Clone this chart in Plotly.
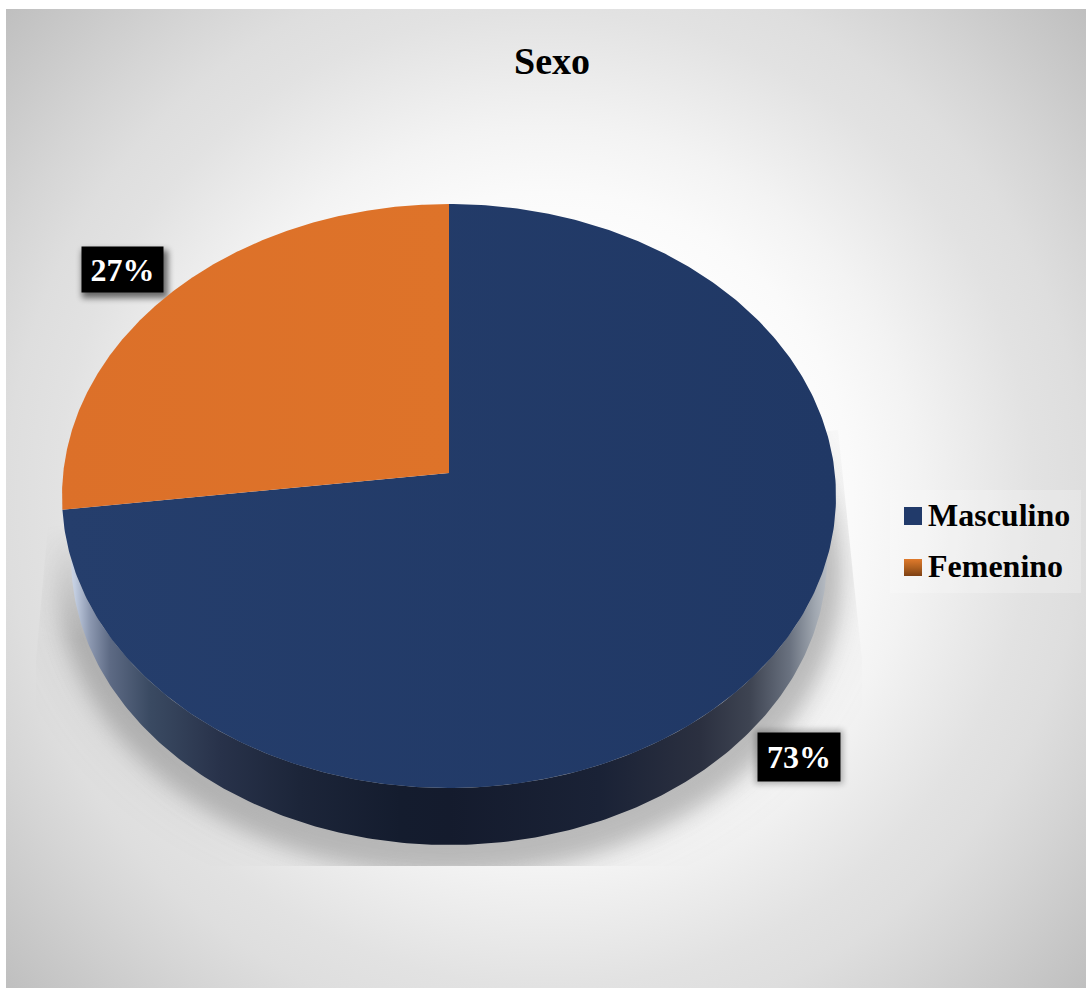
import base64
import numpy as np
import plotly.graph_objects as go

# Chart data
title_text = "Sexo"
categories = ["Masculino", "Femenino"]
shares = [73, 27]
slice_colors = [["#253e6c", "#203865"], ["#dc7029", "#de7329"]]

# Canvas size and the projected disc
W, H = 1086, 988
CX, CY, RX, RY = 449.0, 496.0, 387.0, 292.0
TILT = -0.079                     # perspective shift of the disc centre
BASE_CX, BASE_CY, BASE_RX, BASE_RY = 449.0, 558.0, 378.0, 287.0  # lower rim
FONT = "Liberation Serif"


def project(theta):
    """Clockwise angle from twelve o'clock to a point on the tilted disc rim."""
    u, v = np.sin(theta), -np.cos(theta)
    d = 1 + TILT * v
    return CX + RX * u * np.sqrt(1 - TILT ** 2) / d, CY + RY * (v + TILT) / d


def centre():
    return CX, CY + RY * TILT


def background_svg():
    """Panel gradient and soft shadows, kept behind the plotted marks."""
    stops = [(0, "#ffffff"), (0.3, "#ffffff"), (0.42, "#fafafa"), (0.51, "#f3f3f3"),
             (0.67, "#e2e2e2"), (0.74, "#dedede"), (0.82, "#d5d5d5"), (1, "#bfbfbf")]
    stop_tags = "".join(f'<stop offset="{o}" stop-color="{c}"/>' for o, c in stops)
    return f'''<svg xmlns="http://www.w3.org/2000/svg" width="{W}" height="{H}" viewBox="0 0 {W} {H}">
<defs>
<radialGradient id="panel" gradientUnits="userSpaceOnUse" cx="546" cy="498" r="729">{stop_tags}</radialGradient>
<linearGradient id="rise" gradientUnits="userSpaceOnUse" x1="0" y1="525" x2="0" y2="640">
<stop offset="0" stop-color="#000"/><stop offset="1" stop-color="#fff"/></linearGradient>
<mask id="leftfade" maskUnits="userSpaceOnUse" x="0" y="0" width="{W}" height="{H}">
<rect x="0" y="0" width="449" height="{H}" fill="url(#rise)"/>
<rect x="449" y="0" width="{W - 449}" height="{H}" fill="#fff"/></mask>
<filter id="wide" x="-20%" y="-20%" width="140%" height="140%"><feGaussianBlur stdDeviation="30"/></filter>
<filter id="tight" x="-20%" y="-20%" width="140%" height="140%"><feGaussianBlur stdDeviation="10"/></filter>
<filter id="box" x="-30%" y="-30%" width="160%" height="160%"><feGaussianBlur stdDeviation="3"/></filter>
<clipPath id="wedge"><polygon points="48,525 36,660 36,866 862,866 862,660 838,430"/></clipPath>
</defs>
<rect x="0" y="0" width="{W}" height="{H}" fill="#ffffff"/>
<rect x="6" y="9" width="{W - 6}" height="{H - 9}" fill="url(#panel)"/>
<g clip-path="url(#wedge)"><g mask="url(#leftfade)">
<ellipse cx="449" cy="566" rx="392" ry="296" fill="#666666" opacity="0.2" filter="url(#wide)"/>
<ellipse cx="449" cy="575" rx="392" ry="300" fill="#777777" opacity="0.38" filter="url(#tight)"/>
</g></g>
<rect x="82" y="250" width="86" height="48" fill="#000" opacity="0.55" filter="url(#box)"/>
<rect x="755" y="730" width="88" height="54" fill="#000" opacity="0.28" filter="url(#box)"/>
</svg>'''


fig = go.Figure()

# Side wall of the disc, shaded left to right
t = np.linspace(0, np.pi, 240)
top_x, top_y = CX + RX * np.cos(t), CY + RY * np.sin(t)
base_x, base_y = BASE_CX + BASE_RX * np.cos(t), BASE_CY + BASE_RY * np.sin(t)
wall_stops = [(62, "#dfe5ef"), (75, "#c2cde0"), (90, "#8c98b0"), (110, "#5d6a84"),
              (150, "#3a4a62"), (220, "#28324a"), (300, "#1c2539"), (400, "#141c2e"),
              (449, "#141b2d"), (600, "#1a2236"), (700, "#2b3040"), (750, "#3e4452"),
              (790, "#6a7280"), (815, "#a0a7b0"), (836, "#c8ccd2")]
fig.add_trace(go.Scatter(
    x=np.r_[top_x, base_x[::-1]], y=np.r_[top_y, base_y[::-1]],
    mode="lines", line=dict(width=0), fill="toself", hoverinfo="skip", showlegend=False,
    fillgradient=dict(type="horizontal", start=62, stop=836,
                      colorscale=[[(x - 62) / (836 - 62), c] for x, c in wall_stops]),
))

# Slices, starting at twelve o'clock and running clockwise
total = sum(shares)
start = 0.0
for name, share, colors in zip(categories, shares, slice_colors):
    end = start + 2 * np.pi * share / total
    arc = np.linspace(start, end, 360)
    rim_x, rim_y = project(arc)
    cx0, cy0 = centre()
    fig.add_trace(go.Scatter(
        x=np.r_[cx0, rim_x, cx0], y=np.r_[cy0, rim_y, cy0],
        mode="lines", line=dict(width=0), fill="toself", name=name,
        hovertemplate=f"{name}: {share}%<extra></extra>", showlegend=False,
        fillgradient=dict(type="horizontal", colorscale=[[0, colors[0]], [1, colors[1]]]),
    ))
    start = end

# Legend panel and swatches
fig.add_shape(type="rect", x0=890, x1=1081, y0=490, y1=593, line_width=0,
              fillcolor="rgba(255,255,255,0.22)", layer="below")
swatch_y = [515, 566]
for yc, name in zip(swatch_y, categories):
    fig.add_annotation(x=926, y=yc, text=f"<b>{name}</b>", xanchor="left", yanchor="middle",
                       showarrow=False, font=dict(family=FONT, size=32, color="#000000"))
fig.add_trace(go.Scatter(
    x=[904, 922, 922, 904, 904], y=[507, 507, 525, 525, 507], mode="lines", line=dict(width=0),
    fill="toself", fillcolor="#213a6a", hoverinfo="skip", showlegend=False))
fig.add_trace(go.Scatter(
    x=[904, 922, 922, 904, 904], y=[559, 559, 576, 576, 559], mode="lines", line=dict(width=0),
    fill="toself", hoverinfo="skip", showlegend=False,
    fillgradient=dict(type="vertical", start=559, stop=576,
                      colorscale=[[0, "#e07a2c"], [0.5, "#b0601f"], [1, "#7d4014"]])))

# Percentage labels
label_boxes = {"Masculino": (799, 757, 82, 48), "Femenino": (122.5, 269.5, 81, 45)}
for name, share in zip(categories, shares):
    xc, yc, bw, bh = label_boxes[name]
    fig.add_annotation(x=xc, y=yc, text=f"<b>{share}%</b>", showarrow=False,
                       width=bw, height=bh, bgcolor="#000000", borderpad=0, align="center", valign="middle",
                       font=dict(family=FONT, size=32, color="#ffffff"))

# Title
fig.add_annotation(x=552, y=61, text=f"<b>{title_text}</b>", showarrow=False,
                   font=dict(family=FONT, size=38, color="#000000"))

fig.update_layout(
    width=W, height=H, margin=dict(l=0, r=0, t=0, b=0),
    paper_bgcolor="#ffffff", plot_bgcolor="rgba(0,0,0,0)", showlegend=False,
    xaxis=dict(range=[0, W], visible=False, fixedrange=True),
    yaxis=dict(range=[H, 0], visible=False, fixedrange=True),
    images=[dict(source="data:image/svg+xml;base64," + base64.b64encode(background_svg().encode()).decode(),
                 xref="paper", yref="paper", x=0, y=1, sizex=1, sizey=1,
                 xanchor="left", yanchor="top", sizing="stretch", layer="below")],
)

fig.write_html("out.html", config=dict(displayModeBar=False))
